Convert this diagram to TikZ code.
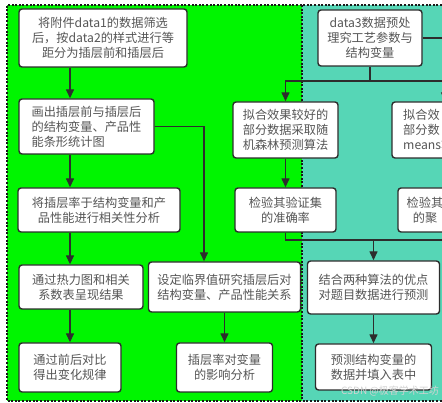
\documentclass[tikz,border=0pt]{standalone}
\usepackage{fontspec}
\setmainfont{Noto Sans CJK SC}
\usepackage{tikz}
\usetikzlibrary{arrows.meta, calc}
\definecolor{zonegreen}{RGB}{0, 245, 0}
\definecolor{zoneteal}{RGB}{86, 214, 182}
\definecolor{linegray}{RGB}{45, 45, 45}
\definecolor{textgray}{RGB}{85, 85, 85}

\begin{document}
\begin{tikzpicture}[
    x=1pt, y=-1pt,
    box/.style={rectangle, draw=linegray, fill=white, line width=1.4pt, rounded corners=3pt, inner sep=0pt, align=center, text=textgray, font=\fontsize{12.2}{15}\selectfont},
    boxtext/.style={inner sep=0pt, text=textgray, font=\fontsize{12.2}{15}\selectfont},
    arrow/.style={-{Triangle[length=9pt, width=8pt]}, draw=linegray, line width=1.4pt},
    link/.style={draw=linegray, line width=1.4pt},
    zone/.style={draw=black!90, line width=1.3pt, dash pattern=on 2pt off 1.6pt}
]
\useasboundingbox (0,0) rectangle (442,403);
\clip (0,0) rectangle (442,403);

% Zones
\fill[zonegreen] (7,5) rectangle (302,401);
\fill[zoneteal] (302,5) rectangle (460,401);
\draw[zone] (460,5) -- (7,5) -- (7,401) -- (460,401);
\draw[zone] (302,5) -- (302,401);

% Left column
\node[box, minimum width=168, minimum height=58] (split) at (103,38) {将附件data1的数据筛选\\后，按data2的样式进行等\\距分为插层前和插层后};
\node[box, minimum width=135, minimum height=55, align=left] (bars) at (86.5,126.5) {画出插层前与插层后\\的结构变量、产品性\\能条形统计图};
\node[box, minimum width=162, minimum height=44] (corr) at (99,210) {将插层率于结构变量和产\\品性能进行相关性分析};
\node[box, minimum width=124, minimum height=44] (heat) at (81,287) {通过热力图和相关\\系数表呈现结果};
\node[box, minimum width=102, minimum height=49] (compare) at (70,367.5) {通过前后对比\\得出变化规律};

% Critical value branch
\node[box, minimum width=152, minimum height=50] (critical) at (224.5,287) {设定临界值研究插层后对\\结构变量、产品性能关系};
\node[box, minimum width=96, minimum height=49] (effect) at (224.5,367.5) {插层率对变量\\的影响分析};

% Prediction column
\node[box, minimum width=104, minimum height=56] (preproc) at (370,38) {data3数据预处\\理究工艺参数与\\结构变量};
\node[box, minimum width=105, minimum height=56] (rf) at (285.5,130) {拟合效果较好的\\部分数据采取随\\机森林预测算法};
\node[box, minimum width=101, minimum height=44] (check1) at (285.5,210) {检验其验证集\\的准确率};
\node[box, minimum width=106, minimum height=56] (kmeans) at (445,130) {};
\node[boxtext, anchor=west, align=left] (kmeanstext) at (403,130) {拟合效\\部分数\\means算};
\node[box, minimum width=96, minimum height=44] (check2) at (446,210) {};
\node[boxtext, align=center] (check2text) at (425,210) {检验其\\的聚};
\node[box, minimum width=132, minimum height=53] (combine) at (373.5,287.5) {结合两种算法的优点\\对题目数据进行预测};
\node[box, minimum width=116, minimum height=46] (fill) at (373.5,367) {预测结构变量的\\数据并填入表中};

% Watermark
\node[font=\fontsize{10}{12}\selectfont, text=gray!35] (mark) at (390,391) {CSDN @极客学术工坊};

% Helper points
\coordinate (lx) at (70,0);
\coordinate (rx) at (204,0);
\coordinate (fork) at (370,81);
\coordinate (merge) at (373.5,240);
\coordinate (offright) at (450,38);

% Arrows
\draw[arrow] (split.south -| lx) -- (bars.north -| lx);
\draw[arrow] (bars.south -| lx) -- (corr.north -| lx);
\draw[arrow] (corr.south -| lx) -- (heat.north -| lx);
\draw[arrow] (heat.south -| lx) -- (compare.north -| lx);
\draw[arrow] (bars.east) -| (critical.north -| rx);
\draw[arrow] (critical.south) -- (effect.north);

\draw[link] (preproc.east) -- (offright);
\draw[link] (preproc.south) -- (fork);
\draw[arrow] (fork) -| (rf.north);
\draw[arrow] (fork) -| (kmeans.north);
\draw[arrow] (rf.south) -- (check1.north);
\draw[link] (check1.south) |- (merge);
\draw[link] (check2.south) |- (merge);
\draw[arrow] (merge) -- (combine.north);
\draw[arrow] (combine.south) -- (fill.north);

\end{tikzpicture}
\end{document}
